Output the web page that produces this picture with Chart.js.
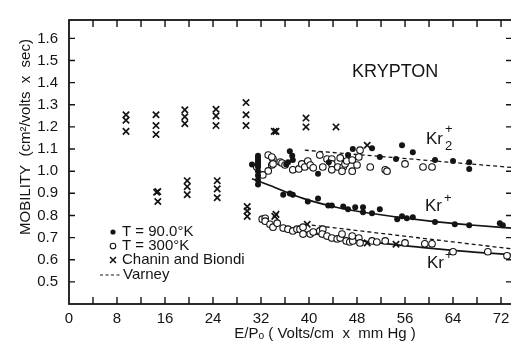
<!DOCTYPE html>
<html>
<head>
<meta charset="utf-8">
<script src="https://cdn.jsdelivr.net/npm/chart.js@4.4.1/dist/chart.umd.min.js"></script>
<style>
  html, body { margin: 0; padding: 0; background: #fff; overflow: hidden; }
</style>
</head>
<body>
<canvas id="chart" width="520" height="343"></canvas>
<script>
// --- Data ---
const xTicks = [0, 8, 16, 24, 32, 40, 48, 56, 64, 72];
const xMinor = [4, 8, 12, 16, 20, 24, 28, 32, 36, 40, 44, 48, 52, 56, 60, 64, 68, 72];
const yTicks = [0.5, 0.6, 0.7, 0.8, 0.9, 1.0, 1.1, 1.2, 1.3, 1.4, 1.5, 1.6];

// T = 90.0 K (filled dots)
const t90E = [31.5, 31.5, 31.5, 31.5, 31.5, 31.5, 31.5, 31.5, 31.5, 31.5, 30.5,
  36.8, 37.2, 37.3, 36.5, 36.2, 41.5, 43.3, 46.5, 47.3, 50.5, 51.8, 54.5, 55.5, 57.3, 61, 64, 66.7, 66.7,
  35.7, 36.8, 37.3, 39.8, 41.5, 43.2, 43.8, 45.7, 46.5, 47.7, 49, 49, 50.5, 51.8, 54.7, 55.5, 56.3, 57.3, 61, 64.3, 66.7, 71.8, 72.3];
const t90Mob = [1.07, 1.06, 1.05, 1.04, 1.03, 1.02, 1.0, 0.98, 0.96, 0.94, 1.03,
  1.09, 1.07, 1.05, 1.04, 1.03, 0.988, 1.04, 1.073, 1.1, 1.104, 1.064, 1.055, 1.117, 1.086, 1.05, 1.046, 1.04, 1.01,
  0.894, 0.899, 0.894, 0.863, 0.877, 0.845, 0.845, 0.841, 0.828, 0.837, 0.837, 0.814, 0.81, 0.828, 0.783, 0.796, 0.787, 0.792, 0.77, 0.76, 0.756, 0.765, 0.756];

// T = 300 K (open circles)
const t300E = [33.2, 34, 33.8, 33.2, 32.3, 31.3, 35.2, 33.8, 34, 35.5, 36, 37.3, 38.3, 38.8, 39.3, 39.8, 40.2, 40.7,
  41.8, 42.3, 43, 43.8, 43.8, 43.8, 44.8, 45.2, 45.7, 46, 46.3, 45.5, 47.2, 47.2, 48, 48.3, 48.5, 50.2, 52.7, 53, 56, 59, 60.5,
  32.2, 32.7, 32.7, 33.5, 34, 34.7, 35.7, 36.5, 37.3, 38, 38.5, 39, 39, 40.2, 40.7, 41.8, 42.3, 42.2, 43, 43.8, 44.7, 45.2, 45.5,
  46.2, 46.8, 47.3, 47.2, 48.3, 48.5, 50.5, 51.3, 52.7, 56, 59.3, 60.5, 64, 69.8, 73];
const t300Mob = [1.073, 1.055, 1.028, 1.001, 0.983, 1.019, 1.041, 1.064, 1.033, 1.037, 1.028, 1.006, 1.01, 1.033, 1.019, 1.046, 1.028, 1.015,
  1.073, 1.019, 1.055, 1.055, 1.033, 1.006, 1.019, 1.06, 1.019, 1.033, 1.046, 1.0, 1.0, 1.05, 1.028, 1.064, 1.095, 1.019, 1.006, 1.0, 1.033, 1.019, 1.019,
  0.783, 0.787, 0.774, 0.76, 0.747, 0.765, 0.743, 0.738, 0.73, 0.738, 0.738, 0.747, 0.716, 0.716, 0.725, 0.73, 0.738, 0.716, 0.707, 0.698, 0.694, 0.698, 0.716,
  0.685, 0.68, 0.685, 0.707, 0.698, 0.676, 0.685, 0.68, 0.685, 0.676, 0.672, 0.672, 0.636, 0.636, 0.618];

// Chanin and Biondi (crosses)
const chaninE = [9.5, 9.5, 9.5, 14.5, 14.5, 14.5, 19.3, 19.3, 19.3, 24.5, 24.5, 24.5, 29.5, 29.5, 29.5, 34.5, 34.2, 39.5, 39.5, 44.5, 49.7,
  14.8, 14.6, 14.8, 19.7, 19.7, 19.7, 24.7, 24.7, 24.7, 29.7, 29.7, 29.7, 34.5, 34.3, 39.7, 49.7, 54.5];
const chaninMob = [1.255, 1.23, 1.18, 1.255, 1.206, 1.166, 1.277, 1.246, 1.215, 1.28, 1.25, 1.206, 1.31, 1.255, 1.206, 1.18, 1.18, 1.24, 1.2, 1.2, 1.117,
  0.908, 0.905, 0.863, 0.957, 0.93, 0.894, 0.957, 0.92, 0.88, 0.84, 0.82, 0.796, 0.805, 0.796, 0.76, 0.676, 0.67];

// Varney (dashed lines)
const varneyDimerE = [39.3, 73.8];
const varneyDimerMob = [1.095, 1.017];
const varneyIonE = [39.3, 73.8];
const varneyIonMob = [0.76, 0.649];

// Drawn-in solid curves
const fit90E = [30.5, 33.5, 39, 44.7, 50.2, 60.2, 67, 73.8];
const fit90Mob = [0.966, 0.935, 0.877, 0.836, 0.81, 0.774, 0.757, 0.743];
const fit300E = [36, 40, 46, 52, 58, 64, 68, 73.8];
const fit300Mob = [0.742, 0.722, 0.695, 0.675, 0.658, 0.642, 0.633, 0.623];

const pts = (xs, ys) => xs.map((v, i) => ({ x: v, y: ys[i] }));
const INK = '#141414';
const FONT = 'Liberation Sans, Arial, Helvetica, sans-serif';

// --- Frame, inward ticks and in-plot text ---
const decorPlugin = {
  id: 'decor',
  afterDatasetsDraw(chart) {
    const { ctx, chartArea: a, scales: { x, y } } = chart;
    ctx.save();
    ctx.strokeStyle = INK;
    ctx.lineWidth = 1.8;
    ctx.strokeRect(a.left, a.top, a.right - a.left, a.bottom - a.top);
    ctx.lineWidth = 1.4;
    ctx.beginPath();
    xMinor.forEach(v => {
      const px = x.getPixelForValue(v);
      ctx.moveTo(px, a.bottom); ctx.lineTo(px, a.bottom - 7);
      ctx.moveTo(px, a.top); ctx.lineTo(px, a.top + 7);
    });
    yTicks.forEach(v => {
      const py = y.getPixelForValue(v);
      ctx.moveTo(a.left, py); ctx.lineTo(a.left + 6, py);
      ctx.moveTo(a.right, py); ctx.lineTo(a.right - 6, py);
    });
    ctx.stroke();

    ctx.fillStyle = INK;
    ctx.textBaseline = 'middle';
    ctx.textAlign = 'left';
    ctx.font = '18px ' + FONT;
    ctx.fillText('KRYPTON', 352, 72);

    // ion labels
    ctx.font = '17px ' + FONT;
    ctx.fillText('Kr', 426, 139);
    ctx.fillText('Kr', 425, 206);
    ctx.fillText('Kr', 427, 263);
    ctx.font = '13px ' + FONT;
    ctx.fillText('+', 445, 129);
    ctx.fillText('2', 445, 146);
    ctx.fillText('+', 444, 198);
    ctx.fillText('+', 445, 255);

    // legend
    ctx.font = '15px ' + FONT;
    ctx.fillText('T = 90.0°K', 122, 232);
    ctx.fillText('T = 300°K', 122, 246);
    ctx.fillText('Chanin and Biondi', 122, 260);
    ctx.fillText('Varney', 123, 275);
    ctx.beginPath(); ctx.arc(113, 232, 2.6, 0, Math.PI * 2); ctx.fill();
    ctx.lineWidth = 1.1;
    ctx.beginPath(); ctx.arc(113, 246, 2.8, 0, Math.PI * 2); ctx.stroke();
    ctx.lineWidth = 1.5;
    ctx.beginPath();
    ctx.moveTo(110, 257); ctx.lineTo(116, 263);
    ctx.moveTo(116, 257); ctx.lineTo(110, 263);
    ctx.stroke();
    ctx.lineWidth = 1.2;
    ctx.setLineDash([3, 2.5]);
    ctx.beginPath(); ctx.moveTo(100, 275); ctx.lineTo(122, 275); ctx.stroke();
    ctx.setLineDash([]);

    // axis titles
    ctx.textAlign = 'center';
    ctx.font = '15px ' + FONT;
    ctx.fillText('E/Pₒ ( Volts/cm  x  mm Hg )', 325, 334);
    ctx.translate(26, 137);
    ctx.rotate(-Math.PI / 2);
    ctx.fillText('MOBILITY  (cm²/volts  x  sec)', 0, 0);
    ctx.restore();
  }
};

new Chart(document.getElementById('chart'), {
  type: 'scatter',
  data: {
    datasets: [
      { label: 'T = 90.0°K', data: pts(t90E, t90Mob), pointStyle: 'circle', pointRadius: 3,
        backgroundColor: INK, borderColor: INK, borderWidth: 0 },
      { label: 'T = 300°K', data: pts(t300E, t300Mob), pointStyle: 'circle', pointRadius: 3.3,
        backgroundColor: '#fff', borderColor: INK, borderWidth: 1.1 },
      { label: 'Chanin and Biondi', data: pts(chaninE, chaninMob), pointStyle: 'crossRot', pointRadius: 4.5,
        borderColor: INK, borderWidth: 1.7 },
      { type: 'line', label: 'Varney Kr2+', data: pts(varneyDimerE, varneyDimerMob), borderColor: INK,
        borderWidth: 1.3, borderDash: [4, 3], pointRadius: 0, fill: false },
      { type: 'line', label: 'Varney Kr+', data: pts(varneyIonE, varneyIonMob), borderColor: INK,
        borderWidth: 1.3, borderDash: [4, 3], pointRadius: 0, fill: false },
      { type: 'line', label: 'fit 90K', data: pts(fit90E, fit90Mob), borderColor: INK,
        borderWidth: 1.7, pointRadius: 0, cubicInterpolationMode: 'monotone', fill: false },
      { type: 'line', label: 'fit 300K', data: pts(fit300E, fit300Mob), borderColor: INK,
        borderWidth: 1.7, pointRadius: 0, cubicInterpolationMode: 'monotone', fill: false }
    ]
  },
  options: {
    responsive: false,
    devicePixelRatio: 1,
    animation: false,
    layout: { padding: { top: 16, right: 8, left: 0, bottom: 0 } },
    plugins: { legend: { display: false }, tooltip: { enabled: false } },
    scales: {
      x: {
        type: 'linear', min: 0, max: 73.83,
        afterFit: s => { s.height = 39; },
        afterBuildTicks: s => { s.ticks = xTicks.map(v => ({ value: v })); },
        grid: { display: false, drawTicks: false },
        border: { display: false },
        ticks: { color: INK, font: { family: FONT, size: 15 }, padding: 6, maxRotation: 0 }
      },
      y: {
        type: 'linear', min: 0.4, max: 1.683,
        afterFit: s => { s.width = 69; },
        afterBuildTicks: s => { s.ticks = yTicks.map(v => ({ value: v })); },
        grid: { display: false, drawTicks: false },
        border: { display: false },
        ticks: { color: INK, font: { family: FONT, size: 15 }, padding: 11, callback: v => v.toFixed(1) }
      }
    }
  },
  plugins: [decorPlugin]
});
</script>
</body>
</html>
